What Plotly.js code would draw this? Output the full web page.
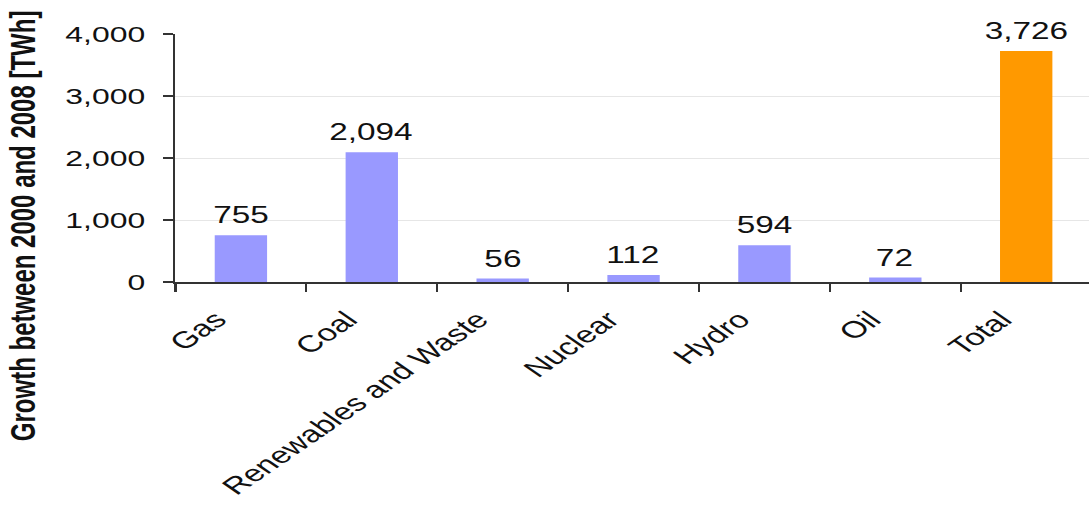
<!DOCTYPE html>
<html>
<head>
<meta charset="utf-8">
<script src="https://cdn.plot.ly/plotly-3.0.1.min.js"></script>
<style>
  html, body { margin: 0; padding: 0; overflow: hidden; background: #fff; }
  /* the chart is laid out on a narrower canvas and widened horizontally */
  #chart { width: 751px; height: 506px; transform: scaleX(1.4501); transform-origin: 0 0; }
</style>
</head>
<body>
<div id="chart"></div>
<script>
// Electricity generation growth by source, 2000 to 2008 (TWh)
const categories = ['Gas', 'Coal', 'Renewables and Waste', 'Nuclear', 'Hydro', 'Oil', 'Total'];
const growthTWh = [755, 2094, 56, 112, 594, 72, 3726];
const yTickValues = [0, 1000, 2000, 3000, 4000];
const yTickLabels = ['0', '1,000', '2,000', '3,000', '4,000'];

const SOURCE_COLOR = '#9999FF';
const TOTAL_COLOR = '#FF9900';
const AXIS_COLOR = '#333333';
const FONT = 'Liberation Sans, Arial, sans-serif';

const barColors = categories.map(c => (c === 'Total' ? TOTAL_COLOR : SOURCE_COLOR));

const bars = {
  type: 'bar',
  x: categories,
  y: growthTWh,
  marker: { color: barColors, line: { width: 0 } },
  hoverinfo: 'skip'
};

// value labels above each bar
const valueLabels = categories.map((c, i) => ({
  x: c,
  y: growthTWh[i],
  xref: 'x',
  yref: 'y',
  text: growthTWh[i].toLocaleString('en-US'),
  showarrow: false,
  xanchor: 'center',
  yanchor: 'bottom',
  yshift: 5,
  font: { family: FONT, size: 23, color: '#111' }
}));

const yTitle = {
  xref: 'paper',
  yref: 'paper',
  x: -0.167,
  y: 0.228,
  xanchor: 'center',
  yanchor: 'middle',
  textangle: -90,
  text: 'Growth between 2000 and 2008 [TWh]',
  showarrow: false,
  font: { family: FONT, size: 24, weight: 700, color: '#111' }
};

const layout = {
  width: 751,
  height: 506,
  margin: { l: 121, r: 0, t: 34, b: 224 },
  paper_bgcolor: '#ffffff',
  plot_bgcolor: '#ffffff',
  showlegend: false,
  bargap: 0.6,
  font: { family: FONT, color: '#111' },
  xaxis: {
    type: 'category',
    range: [-0.5, 6.48],
    tickson: 'boundaries',
    ticks: 'outside',
    ticklen: 8,
    tickwidth: 1.5,
    tickcolor: AXIS_COLOR,
    ticklabelshift: -17,
    ticklabelstandoff: 13,
    showline: true,
    linecolor: AXIS_COLOR,
    linewidth: 1.5,
    showgrid: false,
    tickangle: -45,
    tickfont: { family: FONT, size: 23.5, color: '#111' }
  },
  yaxis: {
    range: [0, 4000],
    tickvals: yTickValues,
    ticktext: yTickLabels,
    ticks: 'outside',
    ticklen: 7,
    tickwidth: 1.5,
    tickcolor: AXIS_COLOR,
    ticklabelstandoff: 8,
    showline: true,
    linecolor: AXIS_COLOR,
    linewidth: 1.5,
    showgrid: true,
    gridcolor: '#e6e6e6',
    gridwidth: 1,
    zeroline: false,
    tickfont: { family: FONT, size: 22, color: '#111' }
  },
  annotations: valueLabels.concat([yTitle])
};

Plotly.newPlot('chart', [bars], layout, { staticPlot: true, displayModeBar: false });
</script>
</body>
</html>
